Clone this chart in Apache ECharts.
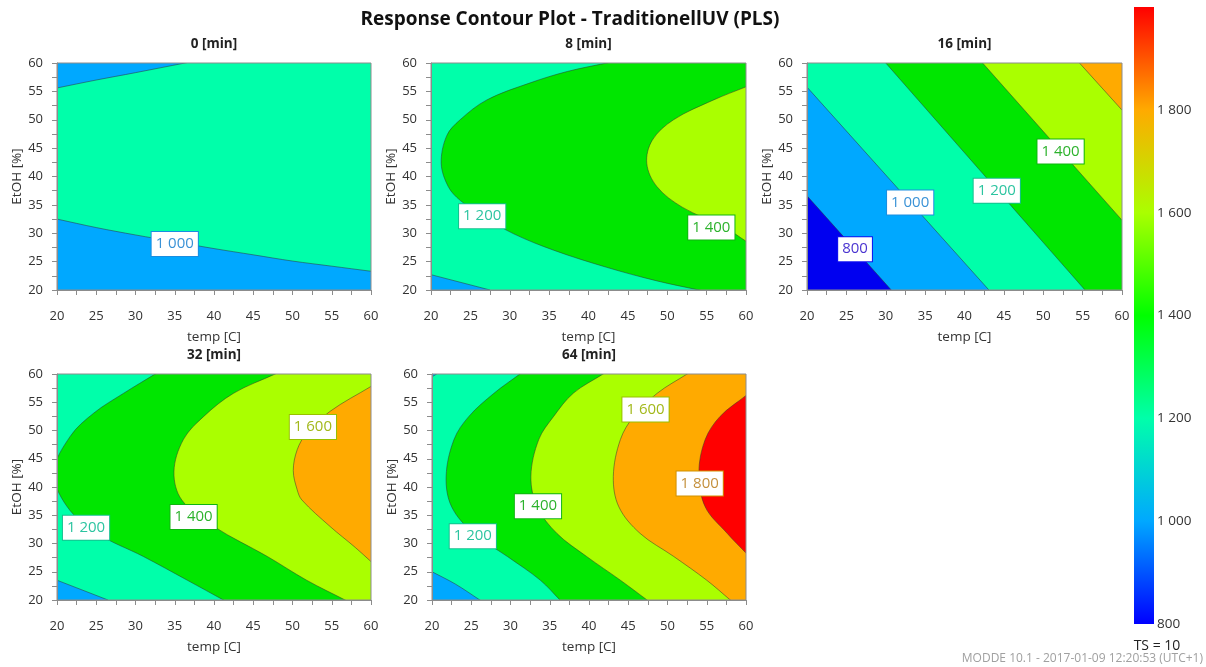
<!DOCTYPE html>
<html>
<head>
<meta charset="utf-8">
<title>Response Contour Plot</title>
<script src="https://cdn.jsdelivr.net/npm/echarts@6/dist/echarts.min.js"></script>
<style>
  html, body { margin: 0; padding: 0; background: #fff; }
  #chart { width: 1206px; height: 667px; }
</style>
</head>
<body>
<div id="chart"></div>
<script>
// panel titles
const panelTitles = ['0 [min]', '8 [min]', '16 [min]', '32 [min]', '64 [min]'];
// contour levels and band colours (band i lies between levels[i-1] and levels[i])
const levels = [800, 1000, 1200, 1400, 1600, 1800];
const bandColors = ['#0000f0', '#00a8ff', '#00ffaa', '#00e600', '#aaff00', '#ffaa00', '#ff0000'];
const labelText = { 800: '#4a34d0', 1000: '#3a92d6', 1200: '#2cc4a0', 1400: '#2cb22c', 1600: '#a2b81a', 1800: '#c4903c' };
const labelBorder = { 800: '#1010f0', 1000: '#1a8ee0', 1200: '#14c08e', 1400: '#10b410', 1600: '#98c000', 1800: '#d09000' };
// colour bar
const barValues = [800, 1000, 1200, 1400, 1600, 1800, 2000];
const barColors = ['#0000ff', '#00a8ff', '#00ffaa', '#00ff00', '#aaff00', '#ffaa00', '#ff0000'];

// background band of each panel
const baseBand = [2, 2, 0, 2, 2];

// contour lines [temp, EtOH]
// 0 min
const p0_1000a = [[20, 55.6], [25, 57.0], [30, 58.3], [36.3, 60]];
const p0_1000b = [[20, 32.5], [25, 31.0], [30, 29.7], [35, 28.5], [40, 27.3], [45, 26.2], [50, 25.1], [55, 24.2], [60, 23.3]];
// 8 min
const p1_1000 = [[20, 22.7], [27.5, 20]];
const p1_1200 = [[42.3, 60], [37.3, 58.5], [32.6, 56.5], [27.1, 53.5], [23.7, 50], [22.0, 47.2], [21.3, 42.3], [22.2, 38.2], [23.7, 35.8], [26.7, 32.9], [30.5, 29.9], [35.6, 27.0], [42.3, 24.0], [48.7, 21.6], [54.0, 20]];
const p1_1400 = [[60, 55.8], [55.9, 53.5], [50.8, 50], [48.1, 46.4], [47.4, 42.3], [48.7, 38.2], [51.9, 34.6], [57.2, 31.1], [60, 28.6]];
// 16 min
const p2_800 = [[20, 36.6], [30.7, 20]];
const p2_1000 = [[20, 55.75], [43.1, 20]];
const p2_1200 = [[30.0, 60], [55.3, 20]];
const p2_1400 = [[42.3, 60], [60, 32.3]];
const p2_1600 = [[54.6, 60], [60, 51.7]];
// 32 min
const p3_1000 = [[20, 23.5], [26.5, 20]];
const p3_1200 = [[32.5, 60], [28.5, 56.6], [24.7, 53.1], [21.7, 49.0], [19.6, 42.6], [21.3, 36.5], [25.1, 31.8], [31.0, 27.7], [36.6, 23.5], [41.2, 20]];
const p3_1400 = [[47.8, 60], [42.5, 56.6], [38.7, 52.5], [36.1, 48.4], [34.9, 42.7], [35.9, 37.7], [40.0, 33.0], [46.8, 27.7], [51.8, 23.5], [56.7, 20]];
const p3_1600 = [[60, 57.8], [54.8, 53.4], [51.8, 49.5], [50.6, 46.6], [50.1, 42.9], [50.6, 39.5], [51.2, 37.7], [54.8, 33.0], [58.0, 29.3], [60, 26.8]];
// 64 min
const p4_1000a = [[20, 59.5], [20.6, 60]];
const p4_1000b = [[20, 25.0], [23, 22.8], [26.1, 20]];
const p4_1200 = [[31.2, 60], [27.9, 56.6], [24.7, 52.5], [22.8, 48.4], [21.8, 41.9], [22.5, 36.5], [25.3, 31.8], [29.6, 27.7], [33.8, 23.5], [36.3, 20]];
const p4_1400 = [[41.8, 60], [38.0, 56.6], [35.5, 52.5], [33.6, 48.4], [32.6, 41.9], [33.4, 36.5], [35.9, 31.8], [39.7, 27.7], [44.0, 23.5], [47.4, 20]];
const p4_1600 = [[52.5, 60], [48.7, 56.6], [45.7, 52.5], [44.0, 48.4], [43.1, 41.9], [43.8, 36.5], [46.5, 31.8], [50.8, 27.7], [55.0, 23.5], [58.0, 20]];
const p4_1800 = [[60, 56.2], [56.7, 52.5], [54.8, 48.4], [54.0, 42.5], [54.8, 36.5], [57.6, 31.8], [60, 28.3]];

// [panel, level, band filled beyond the line, line, corners that close the filled side]
const contours = [
  [0, 1000, 1, p0_1000a, [[20, 60]]],
  [0, 1000, 1, p0_1000b, [[60, 20], [20, 20]]],
  [1, 1000, 1, p1_1000, [[20, 20]]],
  [1, 1200, 3, p1_1200, [[60, 20], [60, 60]]],
  [1, 1400, 4, p1_1400, [[60, 20], [60, 60]]],
  [2, 800, 1, p2_800, [[60, 20], [60, 60], [20, 60]]],
  [2, 1000, 2, p2_1000, [[60, 20], [60, 60], [20, 60]]],
  [2, 1200, 3, p2_1200, [[60, 20], [60, 60]]],
  [2, 1400, 4, p2_1400, [[60, 60]]],
  [2, 1600, 5, p2_1600, [[60, 60]]],
  [3, 1000, 1, p3_1000, [[20, 20]]],
  [3, 1200, 3, p3_1200, [[60, 20], [60, 60]]],
  [3, 1400, 4, p3_1400, [[60, 20], [60, 60]]],
  [3, 1600, 5, p3_1600, [[60, 20], [60, 60]]],
  [4, 1000, 1, p4_1000a, [[20, 60]]],
  [4, 1000, 1, p4_1000b, [[20, 20]]],
  [4, 1200, 3, p4_1200, [[60, 20], [60, 60]]],
  [4, 1400, 4, p4_1400, [[60, 20], [60, 60]]],
  [4, 1600, 5, p4_1600, [[60, 20], [60, 60]]],
  [4, 1800, 6, p4_1800, [[60, 20], [60, 60]]]
];

// contour labels [panel, temp, EtOH, level]
const contourLabels = [
  [0, 35.0, 28.1, 1000],
  [1, 26.5, 33.0, 1200], [1, 55.6, 31.0, 1400],
  [2, 26.1, 27.2, 800], [2, 33.1, 35.4, 1000], [2, 44.1, 37.5, 1200], [2, 52.2, 44.4, 1400],
  [3, 23.7, 32.8, 1200], [3, 37.4, 34.7, 1400], [3, 52.6, 50.6, 1600],
  [4, 25.2, 31.3, 1200], [4, 33.5, 36.6, 1400], [4, 47.2, 53.7, 1600], [4, 54.1, 40.6, 1800]
];

const font = "'Open Sans', 'Noto Sans', sans-serif";
const smoothness = 0.35;
const grids = [
  { left: 57, top: 63, width: 314, height: 227 },
  { left: 431, top: 63, width: 315, height: 227 },
  { left: 807, top: 63, width: 315, height: 227 },
  { left: 57, top: 374, width: 314, height: 226 },
  { left: 432, top: 374, width: 314, height: 226 }
];

function fmt(v) {
  return v >= 1000 ? Math.floor(v / 1000) + ' ' + String(v % 1000).padStart(3, '0') : String(v);
}
// push closing corners away from the plot so rounded polygon edges fall outside the clip
function pushOut(pt) {
  return [pt[0] + (pt[0] - 40), pt[1] + (pt[1] - 40)];
}
// carry a curved line a little past the plot edge (hidden by the clip) so its ends stay straight
function runOff(pts) {
  if (pts.length < 3) return pts;
  function ext(a, b) {
    var dx = a[0] - b[0], dy = a[1] - b[1], len = Math.sqrt(dx * dx + dy * dy);
    return [a[0] + dx / len * 6, a[1] + dy / len * 6];
  }
  var n = pts.length;
  return [ext(pts[0], pts[1])].concat(pts, [ext(pts[n - 1], pts[n - 2])]);
}

var chart = echarts.init(document.getElementById('chart'));

var xAxes = [], yAxes = [], series = [], graphics = [];
grids.forEach(function (g, i) {
  g.show = true;
  g.borderColor = '#8c8c8c';
  g.borderWidth = 1;
  g.z = 10;
  xAxes.push({
    gridIndex: i, type: 'value', min: 20, max: 60, interval: 5, z: 10,
    name: 'temp [C]', nameLocation: 'middle', nameGap: 40,
    nameTextStyle: { fontFamily: font, fontSize: 13.5, color: '#333' },
    axisLine: { lineStyle: { color: '#8c8c8c' } },
    axisTick: { length: 5, lineStyle: { color: '#8c8c8c' } },
    minorTick: { show: true, splitNumber: 2, length: 5, lineStyle: { color: '#8c8c8c' } },
    axisLabel: { fontFamily: font, fontSize: 13, color: '#333', margin: 20 },
    splitLine: { show: false }
  });
  yAxes.push({
    gridIndex: i, type: 'value', min: 20, max: 60, interval: 5, z: 10,
    name: 'EtOH [%]', nameLocation: 'middle', nameGap: 32,
    nameTextStyle: { fontFamily: font, fontSize: 13.5, color: '#333' },
    axisLine: { lineStyle: { color: '#8c8c8c' } },
    axisTick: { length: 5, lineStyle: { color: '#8c8c8c' } },
    minorTick: { show: true, splitNumber: 2, length: 5, lineStyle: { color: '#8c8c8c' } },
    axisLabel: { fontFamily: font, fontSize: 13, color: '#333', margin: 14 },
    splitLine: { show: false }
  });

  var mine = contours.filter(function (c) { return c[0] === i; });

  // filled bands: background first, then each contour's closing side
  var polys = [{ band: baseBand[i], pts: [[20, 20], [60, 20], [60, 60], [20, 60]], smooth: 0 }];
  mine.forEach(function (c) {
    var curved = c[3].length > 2;
    polys.push({
      band: c[2],
      pts: curved ? runOff(c[3]).concat(c[4].map(pushOut)) : c[3].concat(c[4]),
      smooth: curved ? smoothness : 0
    });
  });
  series.push({
    type: 'custom', xAxisIndex: i, yAxisIndex: i, z: 2, clip: true, silent: true,
    data: polys.map(function (p, k) { return [k]; }),
    renderItem: function (params, api) {
      var p = polys[params.dataIndex];
      return {
        type: 'polygon',
        shape: { points: p.pts.map(function (pt) { return api.coord(pt); }), smooth: p.smooth },
        style: { fill: bandColors[p.band], stroke: null }
      };
    }
  });

  // contour lines
  series.push({
    type: 'custom', xAxisIndex: i, yAxisIndex: i, z: 3, clip: true, silent: true,
    data: mine.map(function (c, k) { return [k]; }),
    renderItem: function (params, api) {
      var c = mine[params.dataIndex];
      var curved = c[3].length > 2;
      return {
        type: 'polyline',
        shape: { points: runOff(c[3]).map(function (pt) { return api.coord(pt); }), smooth: curved ? smoothness : 0 },
        style: { stroke: 'rgba(50,50,50,0.5)', lineWidth: 1, fill: null }
      };
    }
  });

  series.push({
    type: 'scatter', xAxisIndex: i, yAxisIndex: i, z: 5, silent: true, symbolSize: 0,
    itemStyle: { opacity: 1 },
    data: contourLabels.filter(function (l) { return l[0] === i; }).map(function (l) {
      return {
        value: [l[1], l[2]],
        label: {
          show: true, position: 'inside', formatter: fmt(l[3]), opacity: 1,
          fontFamily: font, fontSize: 15, color: labelText[l[3]],
          backgroundColor: '#ffffff', borderColor: labelBorder[l[3]], borderWidth: 1,
          padding: [5, 4, 4, 4]
        }
      };
    })
  });

  graphics.push({
    type: 'text', x: g.left + g.width / 2, y: g.top - 19,
    style: { text: panelTitles[i], fontFamily: font, fontWeight: 'bold', fontSize: 13.5,
      fill: '#222', textAlign: 'center', textVerticalAlign: 'middle' }
  });
});

// colour bar
grids.push({ left: 1134, top: 7, width: 20, height: 617 });
xAxes.push({ gridIndex: 5, type: 'value', min: 0, max: 1, show: false });
yAxes.push({
  gridIndex: 5, type: 'value', min: 800, max: 2000, interval: 200, position: 'right',
  axisLine: { show: false }, axisTick: { show: false }, splitLine: { show: false },
  axisLabel: {
    fontFamily: font, fontSize: 13.5, color: '#333', margin: 3,
    formatter: function (v) { return v >= 2000 ? '' : fmt(v); }
  }
});
series.push({
  type: 'custom', xAxisIndex: 5, yAxisIndex: 5, silent: true,
  data: [[0]],
  renderItem: function (params, api) {
    var a = api.coord([0, barValues[barValues.length - 1]]);
    var b = api.coord([1, barValues[0]]);
    return {
      type: 'rect',
      shape: { x: a[0], y: a[1], width: b[0] - a[0], height: b[1] - a[1] },
      style: {
        fill: new echarts.graphic.LinearGradient(0, 1, 0, 0, barValues.map(function (v, k) {
          return { offset: (v - barValues[0]) / (barValues[barValues.length - 1] - barValues[0]), color: barColors[k] };
        }))
      }
    };
  }
});

graphics.push({
  type: 'text', x: 570, y: 20,
  style: { text: 'Response Contour Plot - TraditionellUV (PLS)', fontFamily: font, fontWeight: 'bold',
    fontSize: 19, fill: '#111', textAlign: 'center', textVerticalAlign: 'middle' }
});
graphics.push({
  type: 'text', x: 1157, y: 646,
  style: { text: 'TS = 10', fontFamily: font, fontSize: 14, fill: '#222', textAlign: 'center', textVerticalAlign: 'middle' }
});
graphics.push({
  type: 'text', x: 1203, y: 659,
  style: { text: 'MODDE 10.1 - 2017-01-09 12:20:53 (UTC+1)', fontFamily: font, fontSize: 12,
    fill: '#a0a0a0', textAlign: 'right', textVerticalAlign: 'middle' }
});

chart.setOption({
  animation: false,
  grid: grids,
  xAxis: xAxes,
  yAxis: yAxes,
  series: series,
  graphic: graphics
});
</script>
</body>
</html>
